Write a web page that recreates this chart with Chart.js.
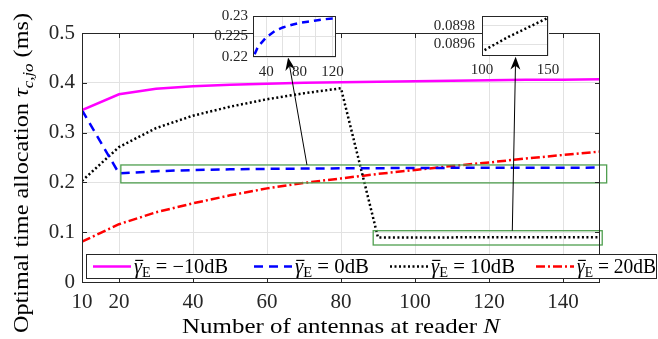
<!DOCTYPE html>
<html>
<head>
<meta charset="utf-8">
<script src="https://cdn.jsdelivr.net/npm/chart.js@4.4.1/dist/chart.umd.min.js"></script>
<style>
html, body { margin:0; padding:0; background:#fff; }
#wrap { position:relative; width:658px; height:339px; }
#main { position:absolute; left:0; top:0; }
#ins1 { position:absolute; left:200px; top:0; }
#ins2 { position:absolute; left:420px; top:0; }
</style>
</head>
<body>
<div id="wrap">
  <canvas id="main" width="658" height="339"></canvas>
  <canvas id="ins1" width="150" height="85"></canvas>
  <canvas id="ins2" width="145" height="80"></canvas>
</div>
<script>
// data
const antennaN = [10, 20, 30, 40, 50, 60, 70, 80, 90, 100, 110, 120, 130, 140, 150]
const tauGm10 = [0.345, 0.377, 0.388, 0.393, 0.396, 0.398, 0.400, 0.401, 0.402, 0.403, 0.404, 0.405, 0.406, 0.406, 0.407]
const tauG0 = [0.345, 0.218, 0.2225, 0.2248, 0.2263, 0.2272, 0.2278, 0.2283, 0.2286, 0.2289, 0.2292, 0.2294, 0.2295, 0.2296, 0.2297]
const tauG10 = [0.203, 0.271, 0.309, 0.334, 0.352, 0.367, 0.379, 0.389, 0.08944, 0.08952, 0.08960, 0.08968, 0.08975, 0.08982, 0.08989]
const tauG20 = [0.081, 0.116, 0.140, 0.158, 0.174, 0.188, 0.199, 0.208, 0.217, 0.225, 0.233, 0.240, 0.248, 0.255, 0.262]

const legendLabels = ['−10dB', '0dB', '10dB', '20dB']

const xTickVals = [10, 20, 40, 60, 80, 100, 120, 140]
const yTickVals = [0, 0.1, 0.2, 0.3, 0.4, 0.5]
const yTickLabels = ['0', '0.1', '0.2', '0.3', '0.4', '0.5']

const ins1XTicks = [40, 60, 80, 100, 120]
const ins1XLabels = ['40', '', '80', '', '120']
const ins1YTicks = [0.22, 0.225, 0.23]
const ins1YLabels = ['0.22', '0.225', '0.23']

const ins2XTicks = [100, 150]
const ins2XLabels = ['100', '150']
const ins2YTicks = [0.0896, 0.0898]
const ins2YLabels = ['0.0896', '0.0898']

// zoom rectangles and arrows (data coords of main axes)
const zoomBoxes = [
  { x: [20.5, 151.8], y: [0.199, 0.235] },
  { x: [88.7, 150.6], y: [0.0743, 0.103] }
]
const arrows = [
  { from: [70.8, 0.235], to: [65.7, 0.451] },
  { from: [126.3, 0.103], to: [127.2, 0.4525] }
]

const FONT = '"Liberation Serif", "Times New Roman", serif'
const AXC = '#262626'
const GRID = '#e2e2e2'

const styles = [
  { color:'#ff00ff', dash:[] },
  { color:'#0000ff', dash:[9, 6] },
  { color:'#000000', dash:[2, 2.5] },
  { color:'#ff0000', dash:[9, 3, 2, 3] }
]

// legend layout: sample start x and text width
const legendStarts = [93, 254, 390, 536]
const legendTextW = [94, 74, 84, 79]

function pts(ys){
  return antennaN.map((n, i) => ({ x:n, y:ys[i] }))
}

function line(ys, k){
  return {
    data: pts(ys),
    borderColor: styles[k].color,
    borderDash: styles[k].dash,
    borderWidth: 2.5,
    pointRadius: 0,
    fill: false,
    tension: 0
  }
}

// rich text (italic, subscript, overline)
function segFont(p, size){
  const s = p.sub ? size * 0.7 : size
  return (p.it ? 'italic ' : '') + s + 'px ' + FONT
}
function richWidth(ctx, parts, size){
  let w = 0
  parts.forEach(p => { ctx.font = segFont(p, size); w += ctx.measureText(p.t).width })
  return w
}
function drawRich(ctx, parts, size, sx){
  ctx.save()
  ctx.scale(sx, 1)
  ctx.textAlign = 'left'
  ctx.textBaseline = 'alphabetic'
  let cx = 0
  parts.forEach(p => {
    ctx.font = segFont(p, size)
    const dy = p.sub ? size * 0.22 : 0
    ctx.fillText(p.t, cx, dy)
    const w = ctx.measureText(p.t).width
    if (p.bar) ctx.fillRect(cx + size * 0.06, -size * 0.66, w, 1.2)
    cx += w
  })
  ctx.restore()
}

function arrowHead(ctx, x0, y0, x1, y1){
  const a = Math.atan2(y1 - y0, x1 - x0)
  const c = Math.cos(a), s = Math.sin(a)
  const L = 13, W = 5, notch = 9
  ctx.beginPath()
  ctx.moveTo(x1, y1)
  ctx.lineTo(x1 - L * c + W * s, y1 - L * s - W * c)
  ctx.lineTo(x1 - notch * c, y1 - notch * s)
  ctx.lineTo(x1 - L * c - W * s, y1 - L * s + W * c)
  ctx.closePath()
  ctx.fill()
}

const mainDecor = {
  id: 'mainDecor',
  afterDatasetsDraw(chart){
    const { ctx, scales:{ x, y } } = chart
    ctx.save()
    ctx.strokeStyle = '#4f9f4f'
    ctx.lineWidth = 1.3
    zoomBoxes.forEach(b => {
      const x0 = x.getPixelForValue(b.x[0]), x1 = x.getPixelForValue(b.x[1])
      const y0 = y.getPixelForValue(b.y[1]), y1 = y.getPixelForValue(b.y[0])
      ctx.strokeRect(x0, y0, x1 - x0, y1 - y0)
    })
    ctx.strokeStyle = '#000'
    ctx.fillStyle = '#000'
    ctx.lineWidth = 1
    arrows.forEach(a => {
      const x0 = x.getPixelForValue(a.from[0]), y0 = y.getPixelForValue(a.from[1])
      const x1 = x.getPixelForValue(a.to[0]), y1 = y.getPixelForValue(a.to[1])
      const ang = Math.atan2(y1 - y0, x1 - x0)
      ctx.beginPath()
      ctx.moveTo(x0, y0)
      ctx.lineTo(x1 - 9 * Math.cos(ang), y1 - 9 * Math.sin(ang))
      ctx.stroke()
      arrowHead(ctx, x0, y0, x1, y1)
    })
    ctx.restore()
  },
  afterDraw(chart){
    const { ctx, chartArea:ca, scales:{ x, y } } = chart
    ctx.save()
    // box + inward ticks
    ctx.strokeStyle = AXC
    ctx.lineWidth = 1
    ctx.strokeRect(ca.left + 0.5, ca.top + 0.5, ca.right - ca.left - 1, ca.bottom - ca.top)
    ctx.beginPath()
    xTickVals.forEach(v => {
      const px = Math.round(x.getPixelForValue(v)) + 0.5
      ctx.moveTo(px, ca.bottom); ctx.lineTo(px, ca.bottom - 5)
      ctx.moveTo(px, ca.top); ctx.lineTo(px, ca.top + 5)
    })
    yTickVals.forEach(v => {
      const py = Math.round(y.getPixelForValue(v)) + 0.5
      ctx.moveTo(ca.left, py); ctx.lineTo(ca.left + 5, py)
      ctx.moveTo(ca.right, py); ctx.lineTo(ca.right - 5, py)
    })
    ctx.stroke()

    // legend
    ctx.fillStyle = '#fff'
    ctx.fillRect(86, 254, 570, 24)
    ctx.strokeStyle = AXC
    ctx.strokeRect(86.5, 254.5, 570, 24)
    legendLabels.forEach((lab, i) => {
      const sx = legendStarts[i]
      ctx.strokeStyle = styles[i].color
      ctx.setLineDash(styles[i].dash)
      ctx.lineWidth = 2.5
      ctx.beginPath()
      ctx.moveTo(sx, 266.5); ctx.lineTo(sx + 38, 266.5)
      ctx.stroke()
      ctx.setLineDash([])
      ctx.fillStyle = '#000'
      const parts = [
        { t:'γ', it:true, bar:true },
        { t:'E', sub:true },
        { t:' = ' + lab }
      ]
      const w = richWidth(ctx, parts, 20)
      ctx.save()
      ctx.translate(sx + 41, 273)
      drawRich(ctx, parts, 20, legendTextW[i] / w)
      ctx.restore()
    })

    // axis titles
    ctx.fillStyle = '#000'
    const xt = [{ t:'Number of antennas at reader ' }, { t:'N', it:true }]
    const xw = richWidth(ctx, xt, 22)
    ctx.save()
    ctx.translate((ca.left + ca.right) / 2 - 159, 333)
    drawRich(ctx, xt, 22, 318 / xw)
    ctx.restore()

    const yt = [
      { t:'Optimal time allocation ' },
      { t:'τ', it:true },
      { t:'c,jo', it:true, sub:true },
      { t:' (ms)' }
    ]
    const yw = richWidth(ctx, yt, 22)
    ctx.save()
    ctx.translate(28, 333)
    ctx.rotate(-Math.PI / 2)
    drawRich(ctx, yt, 22, 320 / yw)
    ctx.restore()

    ctx.restore()
  }
}

new Chart(document.getElementById('main'), {
  type: 'line',
  data: {
    datasets: [
      line(tauGm10, 0),
      line(tauG0, 1),
      line(tauG10, 2),
      line(tauG20, 3)
    ]
  },
  options: {
    responsive: false,
    animation: false,
    layout: { padding: { left:0, right:58, top:33, bottom:0 } },
    plugins: { legend:{ display:false }, tooltip:{ enabled:false } },
    scales: {
      x: {
        type: 'linear', min: 10, max: 150,
        afterBuildTicks: s => { s.ticks = xTickVals.map(v => ({ value:v })) },
        afterFit: s => { s.height = 57 },
        grid: { color: GRID, drawTicks: false },
        border: { display: false },
        ticks: {
          font: { family: FONT, size: 21 }, color: AXC, padding: 8,
          maxRotation: 0, autoSkip: false,
          callback: (v, i) => String(xTickVals[i])
        }
      },
      y: {
        type: 'linear', min: 0, max: 0.5,
        afterBuildTicks: s => { s.ticks = yTickVals.map(v => ({ value:v })) },
        afterFit: s => { s.width = 82 },
        grid: { color: GRID, drawTicks: false },
        border: { display: false },
        ticks: {
          font: { family: FONT, size: 21 }, color: AXC, padding: 7,
          autoSkip: false,
          callback: (v, i) => yTickLabels[i]
        }
      }
    }
  },
  plugins: [mainDecor]
})

// insets
const insetFrame = {
  id: 'insetFrame',
  beforeDraw(chart){
    const { ctx, chartArea:ca } = chart
    ctx.save()
    ctx.fillStyle = '#fff'
    ctx.fillRect(ca.left, ca.top, ca.right - ca.left, ca.bottom - ca.top)
    ctx.restore()
  },
  afterDraw(chart){
    const { ctx, chartArea:ca } = chart
    ctx.save()
    ctx.strokeStyle = AXC
    ctx.lineWidth = 1
    ctx.strokeRect(Math.round(ca.left) + 0.5, Math.round(ca.top) + 0.5,
      Math.round(ca.right - ca.left) - 1, Math.round(ca.bottom - ca.top) - 1)
    ctx.restore()
  }
}

function insetChart(id, ys, k, dash, xr, yr, xt, xl, yt, yl, pad, yW, xH, xPad, yPad){
  return new Chart(document.getElementById(id), {
    type: 'line',
    data: { datasets: [Object.assign(line(ys, k), { borderDash: dash })] },
    options: {
      responsive: false,
      animation: false,
      layout: { padding: pad },
      plugins: { legend:{ display:false }, tooltip:{ enabled:false } },
      scales: {
        x: {
          type: 'linear', min: xr[0], max: xr[1],
          afterBuildTicks: s => { s.ticks = xt.map(v => ({ value:v })) },
          afterFit: s => { s.height = xH },
          grid: { color: GRID, drawTicks: false },
          border: { display: false },
          ticks: {
            font: { family: FONT, size: 15 }, color: AXC, padding: xPad,
            maxRotation: 0, autoSkip: false,
            callback: (v, i) => xl[i]
          }
        },
        y: {
          type: 'linear', min: yr[0], max: yr[1],
          afterBuildTicks: s => { s.ticks = yt.map(v => ({ value:v })) },
          afterFit: s => { s.width = yW },
          grid: { color: GRID, drawTicks: false },
          border: { display: false },
          ticks: {
            font: { family: FONT, size: 15 }, color: AXC, padding: yPad,
            autoSkip: false,
            callback: (v, i) => yl[i]
          }
        }
      }
    },
    plugins: [insetFrame]
  })
}

insetChart('ins1', tauG0, 1, [7, 5], [24, 124], [0.22, 0.23],
  ins1XTicks, ins1XLabels, ins1YTicks, ins1YLabels,
  { left:0, right:5, top:16, bottom:0 }, 53, 28, 6, 5)

insetChart('ins2', tauG10, 2, [2, 2.5], [100, 150], [0.08947, 0.08991],
  ins2XTicks, ins2XLabels, ins2YTicks, ins2YLabels,
  { left:0, right:17, top:13, bottom:0 }, 62, 24, 5, 7)
</script>
</body>
</html>
